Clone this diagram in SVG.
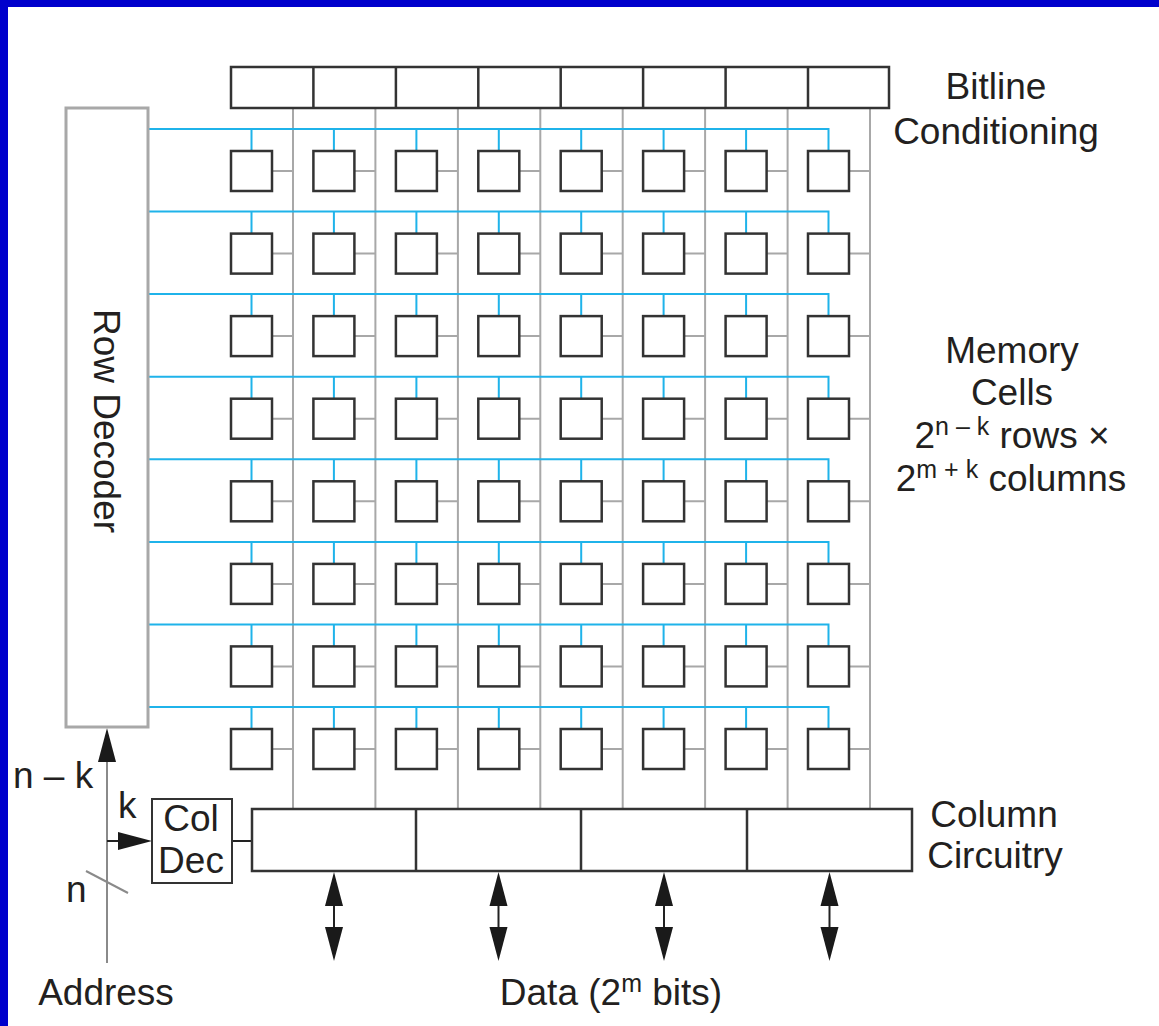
<svg xmlns="http://www.w3.org/2000/svg" width="1159" height="1026" viewBox="0 0 1159 1026">
  <style>
    .lbl { font-family: "Liberation Sans", Arial, sans-serif; font-size: 37px; fill: #231f20; }
    .sup { font-size: 25px; }
    .box { fill: #ffffff; stroke: #333333; stroke-width: 2.5; }
    .cell { fill: #ffffff; stroke: #333333; stroke-width: 2.5; }
    .wl { fill: none; stroke: #1fb3ea; stroke-width: 2; }
    .bl { fill: none; stroke: #a8a8a8; stroke-width: 2; }
    .wire { fill: none; stroke: #222222; stroke-width: 2; }
    .addr { fill: none; stroke: #8a8a8a; stroke-width: 2; }
  </style>
  <defs>
    <marker id="head" markerUnits="userSpaceOnUse" markerWidth="34" markerHeight="20" refX="0" refY="9" orient="auto-start-reverse" viewBox="0 0 34 18">
      <path d="M0 0L34 9L0 18z" fill="#1a1a1a"/>
    </marker>
    <!-- one wordline with its taps down to the cells (row-relative) -->
    <path id="wl" d="M148 0H828.5V22M251.5 0V22M333.9 0V22M416.4 0V22M498.8 0V22M581.2 0V22M663.6 0V22M746.1 0V22"/>
    <!-- cell-to-bitline stubs (row-relative) -->
    <path id="stubs" d="M272 0H293M354.4 0H375.4M436.9 0H457.9M519.3 0H540.3M601.7 0H622.7M684.1 0H705.1M766.6 0H787.6M849 0H870"/>
    <!-- one row of eight memory cells -->
    <g id="cellrow">
      <rect class="cell" x="231" y="0" width="41" height="40"/>
      <rect class="cell" x="313.4" y="0" width="41" height="40"/>
      <rect class="cell" x="395.9" y="0" width="41" height="40"/>
      <rect class="cell" x="478.3" y="0" width="41" height="40"/>
      <rect class="cell" x="560.7" y="0" width="41" height="40"/>
      <rect class="cell" x="643.1" y="0" width="41" height="40"/>
      <rect class="cell" x="725.6" y="0" width="41" height="40"/>
      <rect class="cell" x="808" y="0" width="41" height="40"/>
    </g>
  </defs>

  <!-- frame -->
  <rect x="0" y="0" width="1159" height="1026" fill="#ffffff"/>
  <rect x="0" y="0" width="1159" height="7" fill="#0000cc"/>
  <rect x="0" y="0" width="8" height="1026" fill="#0000cc"/>

  <!-- connectors -->
  <g id="connectors">
    <!-- bitlines -->
    <path class="bl" d="M293 108V809M375.4 108V809M457.9 108V809M540.3 108V809M622.7 108V809M705.1 108V809M787.6 108V809M870 108V809"/>
    <!-- wordlines -->
    <g class="wl">
      <use href="#wl" y="129"/>
      <use href="#wl" y="211.6"/>
      <use href="#wl" y="294.1"/>
      <use href="#wl" y="376.7"/>
      <use href="#wl" y="459.3"/>
      <use href="#wl" y="541.9"/>
      <use href="#wl" y="624.4"/>
      <use href="#wl" y="707"/>
    </g>
    <!-- cell access stubs -->
    <g class="bl">
      <use href="#stubs" y="171"/>
      <use href="#stubs" y="253.6"/>
      <use href="#stubs" y="336.1"/>
      <use href="#stubs" y="418.7"/>
      <use href="#stubs" y="501.3"/>
      <use href="#stubs" y="583.9"/>
      <use href="#stubs" y="666.4"/>
      <use href="#stubs" y="749"/>
    </g>
    <!-- address bus -->
    <path class="addr" d="M107 963V762" marker-end="url(#head)"/>
    <path class="addr" d="M86 871L128 893"/>
    <path class="wire" d="M107 841H118" marker-end="url(#head)"/>
    <!-- column decoder to column circuitry -->
    <path class="wire" d="M232 841H252"/>
    <!-- data ports -->
    <path class="wire" d="M334 906V927" marker-start="url(#head)" marker-end="url(#head)"/>
    <path class="wire" d="M498.5 906V927" marker-start="url(#head)" marker-end="url(#head)"/>
    <path class="wire" d="M664 906V927" marker-start="url(#head)" marker-end="url(#head)"/>
    <path class="wire" d="M829.5 906V927" marker-start="url(#head)" marker-end="url(#head)"/>
  </g>

  <!-- row decoder -->
  <g id="row-decoder">
    <rect x="66" y="108" width="82" height="619" fill="#ffffff" stroke="#a8a8a8" stroke-width="3"/>
    <text class="lbl" text-anchor="middle" transform="translate(93.5 421) rotate(90)">Row Decoder</text>
  </g>

  <!-- bitline conditioning -->
  <g id="bitline-conditioning">
    <rect class="box" x="231" y="67" width="658" height="41"/>
    <path fill="none" stroke="#333333" stroke-width="2.5" d="M313.4 67V108M395.9 67V108M478.3 67V108M560.7 67V108M643.1 67V108M725.6 67V108M808 67V108"/>
    <text class="lbl" text-anchor="middle" x="996" y="99">Bitline</text>
    <text class="lbl" text-anchor="middle" x="996" y="144">Conditioning</text>
  </g>

  <!-- memory cell array -->
  <g id="memory-cells">
    <use href="#cellrow" y="151"/>
    <use href="#cellrow" y="233.6"/>
    <use href="#cellrow" y="316.1"/>
    <use href="#cellrow" y="398.7"/>
    <use href="#cellrow" y="481.3"/>
    <use href="#cellrow" y="563.9"/>
    <use href="#cellrow" y="646.4"/>
    <use href="#cellrow" y="729"/>
    <text class="lbl" text-anchor="middle" x="1012" y="363">Memory</text>
    <text class="lbl" text-anchor="middle" x="1012" y="405">Cells</text>
    <text class="lbl" text-anchor="middle" x="1012" y="448">2<tspan class="sup" dy="-13">n – k</tspan><tspan dy="13"> rows ×</tspan></text>
    <text class="lbl" text-anchor="middle" x="1011" y="491">2<tspan class="sup" dy="-13">m + k</tspan><tspan dy="13"> columns</tspan></text>
  </g>

  <!-- column decoder -->
  <g id="col-dec">
    <rect x="152" y="799" width="80" height="84" fill="#ffffff" stroke="#333333" stroke-width="2"/>
    <text class="lbl" text-anchor="middle" x="191" y="831">Col</text>
    <text class="lbl" text-anchor="middle" x="191" y="873">Dec</text>
  </g>

  <!-- column circuitry -->
  <g id="column-circuitry">
    <rect x="252" y="809" width="660" height="62" fill="#ffffff" stroke="#333333" stroke-width="2.5"/>
    <path d="M416 809V871M581 809V871M747 809V871" stroke="#333333" stroke-width="2.5"/>
    <text class="lbl" text-anchor="middle" x="994" y="827">Column</text>
    <text class="lbl" text-anchor="middle" x="995" y="868">Circuitry</text>
  </g>

  <!-- address and data labels -->
  <g id="labels">
    <text class="lbl" x="13" y="788">n – k</text>
    <text class="lbl" x="118" y="818">k</text>
    <text class="lbl" x="66" y="902">n</text>
    <text class="lbl" text-anchor="middle" x="106" y="1005">Address</text>
    <text class="lbl" text-anchor="middle" x="611" y="1005">Data (2<tspan class="sup" dy="-13">m</tspan><tspan dy="13"> bits)</tspan></text>
  </g>
</svg>
